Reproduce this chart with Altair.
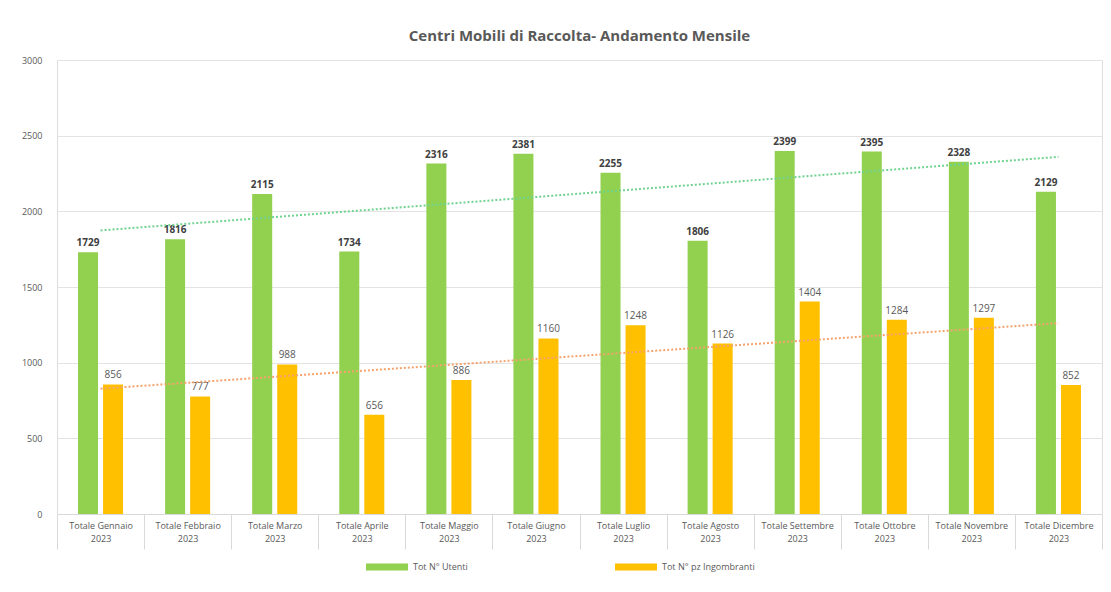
import altair as alt
import pandas as pd

months = ["Totale Gennaio", "Totale Febbraio", "Totale Marzo", "Totale Aprile",
          "Totale Maggio", "Totale Giugno", "Totale Luglio", "Totale Agosto",
          "Totale Settembre", "Totale Ottobre", "Totale Novembre", "Totale Dicembre"]
year = "2023"
series = ["Tot N° Utenti", "Tot N° pz Ingombranti"]
utenti = [1729, 1816, 2115, 1734, 2316, 2381, 2255, 1806, 2399, 2395, 2328, 2129]
ingombranti = [856, 777, 988, 656, 886, 1160, 1248, 1126, 1404, 1284, 1297, 852]
colors = ["#92D050", "#FFC000"]
trend_colors = ["#6fd38f", "#f5a36c"]
y_ticks = [0, 500, 1000, 1500, 2000, 2500, 3000]

rows = []
for i, m in enumerate(months):
    rows.append({"mese": m, "idx": i + 0.5, "serie": series[0], "valore": utenti[i]})
    rows.append({"mese": m, "idx": i + 0.5, "serie": series[1], "valore": ingombranti[i]})
df = pd.DataFrame(rows)

FONT = "Open Sans"

x_enc = alt.X(
    "mese:N", sort=months, title=None,
    scale=alt.Scale(paddingInner=0, paddingOuter=0),
    axis=alt.Axis(labelAngle=0,
                  labelExpr="datum.label ? [datum.label, '" + year + "'] : ''",
                  tickBand="extent", tickSize=35, tickColor="#d9d9d9",
                  domainColor="#d9d9d9", labelFontSize=9, labelColor="#595959",
                  labelPadding=-28, labelLineHeight=13, labelLimit=200,
                  labelFont=FONT, grid=False, labelBaseline="top"),
)
xo_enc = alt.XOffset("serie:N", sort=series,
                     scale=alt.Scale(paddingInner=0.2, paddingOuter=0.84))
y_enc = alt.Y(
    "valore:Q", title=None,
    scale=alt.Scale(domain=[0, 3000], nice=False),
    axis=alt.Axis(values=y_ticks, format="d", domain=False, ticks=False,
                  gridColor="#e3e3e3", labelPadding=15, labelFontSize=9,
                  labelColor="#595959", labelFont=FONT),
)

base = alt.Chart(df)

bars = base.mark_bar().encode(
    x=x_enc, xOffset=xo_enc, y=y_enc,
    color=alt.Color("serie:N", sort=series,
                    scale=alt.Scale(domain=series, range=colors),
                    legend=alt.Legend(title=None, orient="none", direction="horizontal",
                                      legendX=323, legendY=500, columnPadding=147,
                                      symbolType="M-3,-0.5H3V0.5H-3Z", symbolSize=196,
                                      symbolStrokeWidth=0, labelOffset=19,
                                      labelFontSize=9, labelColor="#595959",
                                      labelFont=FONT, labelLimit=300)),
)

lab1 = base.transform_filter(alt.datum.serie == series[0]).mark_text(
    dy=-9, fontSize=10, fontWeight="bold", color="#404040", font=FONT
).encode(x=x_enc, xOffset=xo_enc, y=y_enc, text="valore:Q")

lab2 = base.transform_filter(alt.datum.serie == series[1]).mark_text(
    dy=-9, fontSize=10, color="#595959", font=FONT
).encode(x=x_enc, xOffset=xo_enc, y=y_enc, text="valore:Q")

trends = []
for s, c in zip(series, trend_colors):
    t = base.transform_filter(alt.datum.serie == s).transform_regression(
        "idx", "valore"
    ).mark_line(strokeDash=[2, 2], strokeWidth=2, color=c).encode(
        x=alt.X("idx:Q", scale=alt.Scale(domain=[0, 12], nice=False, zero=False), axis=None),
        y=alt.Y("valore:Q"),
    )
    trends.append(t)

bar_layer = alt.layer(bars, lab1, lab2)
trend_layer = alt.layer(*trends)

chart = alt.layer(bar_layer, trend_layer).resolve_scale(x="independent").properties(
    width=1045, height=454,
    title=alt.TitleParams("Centri Mobili di Raccolta- Andamento Mensile",
                          fontSize=15, fontWeight="bold", color="#595959",
                          font=FONT, anchor="middle", offset=12),
    padding={"left": 13, "top": 21, "right": 0, "bottom": 5},
).configure_view(stroke=None).configure(background="white")

chart.save("out.html", embed_options={"renderer": "svg", "actions": False})
